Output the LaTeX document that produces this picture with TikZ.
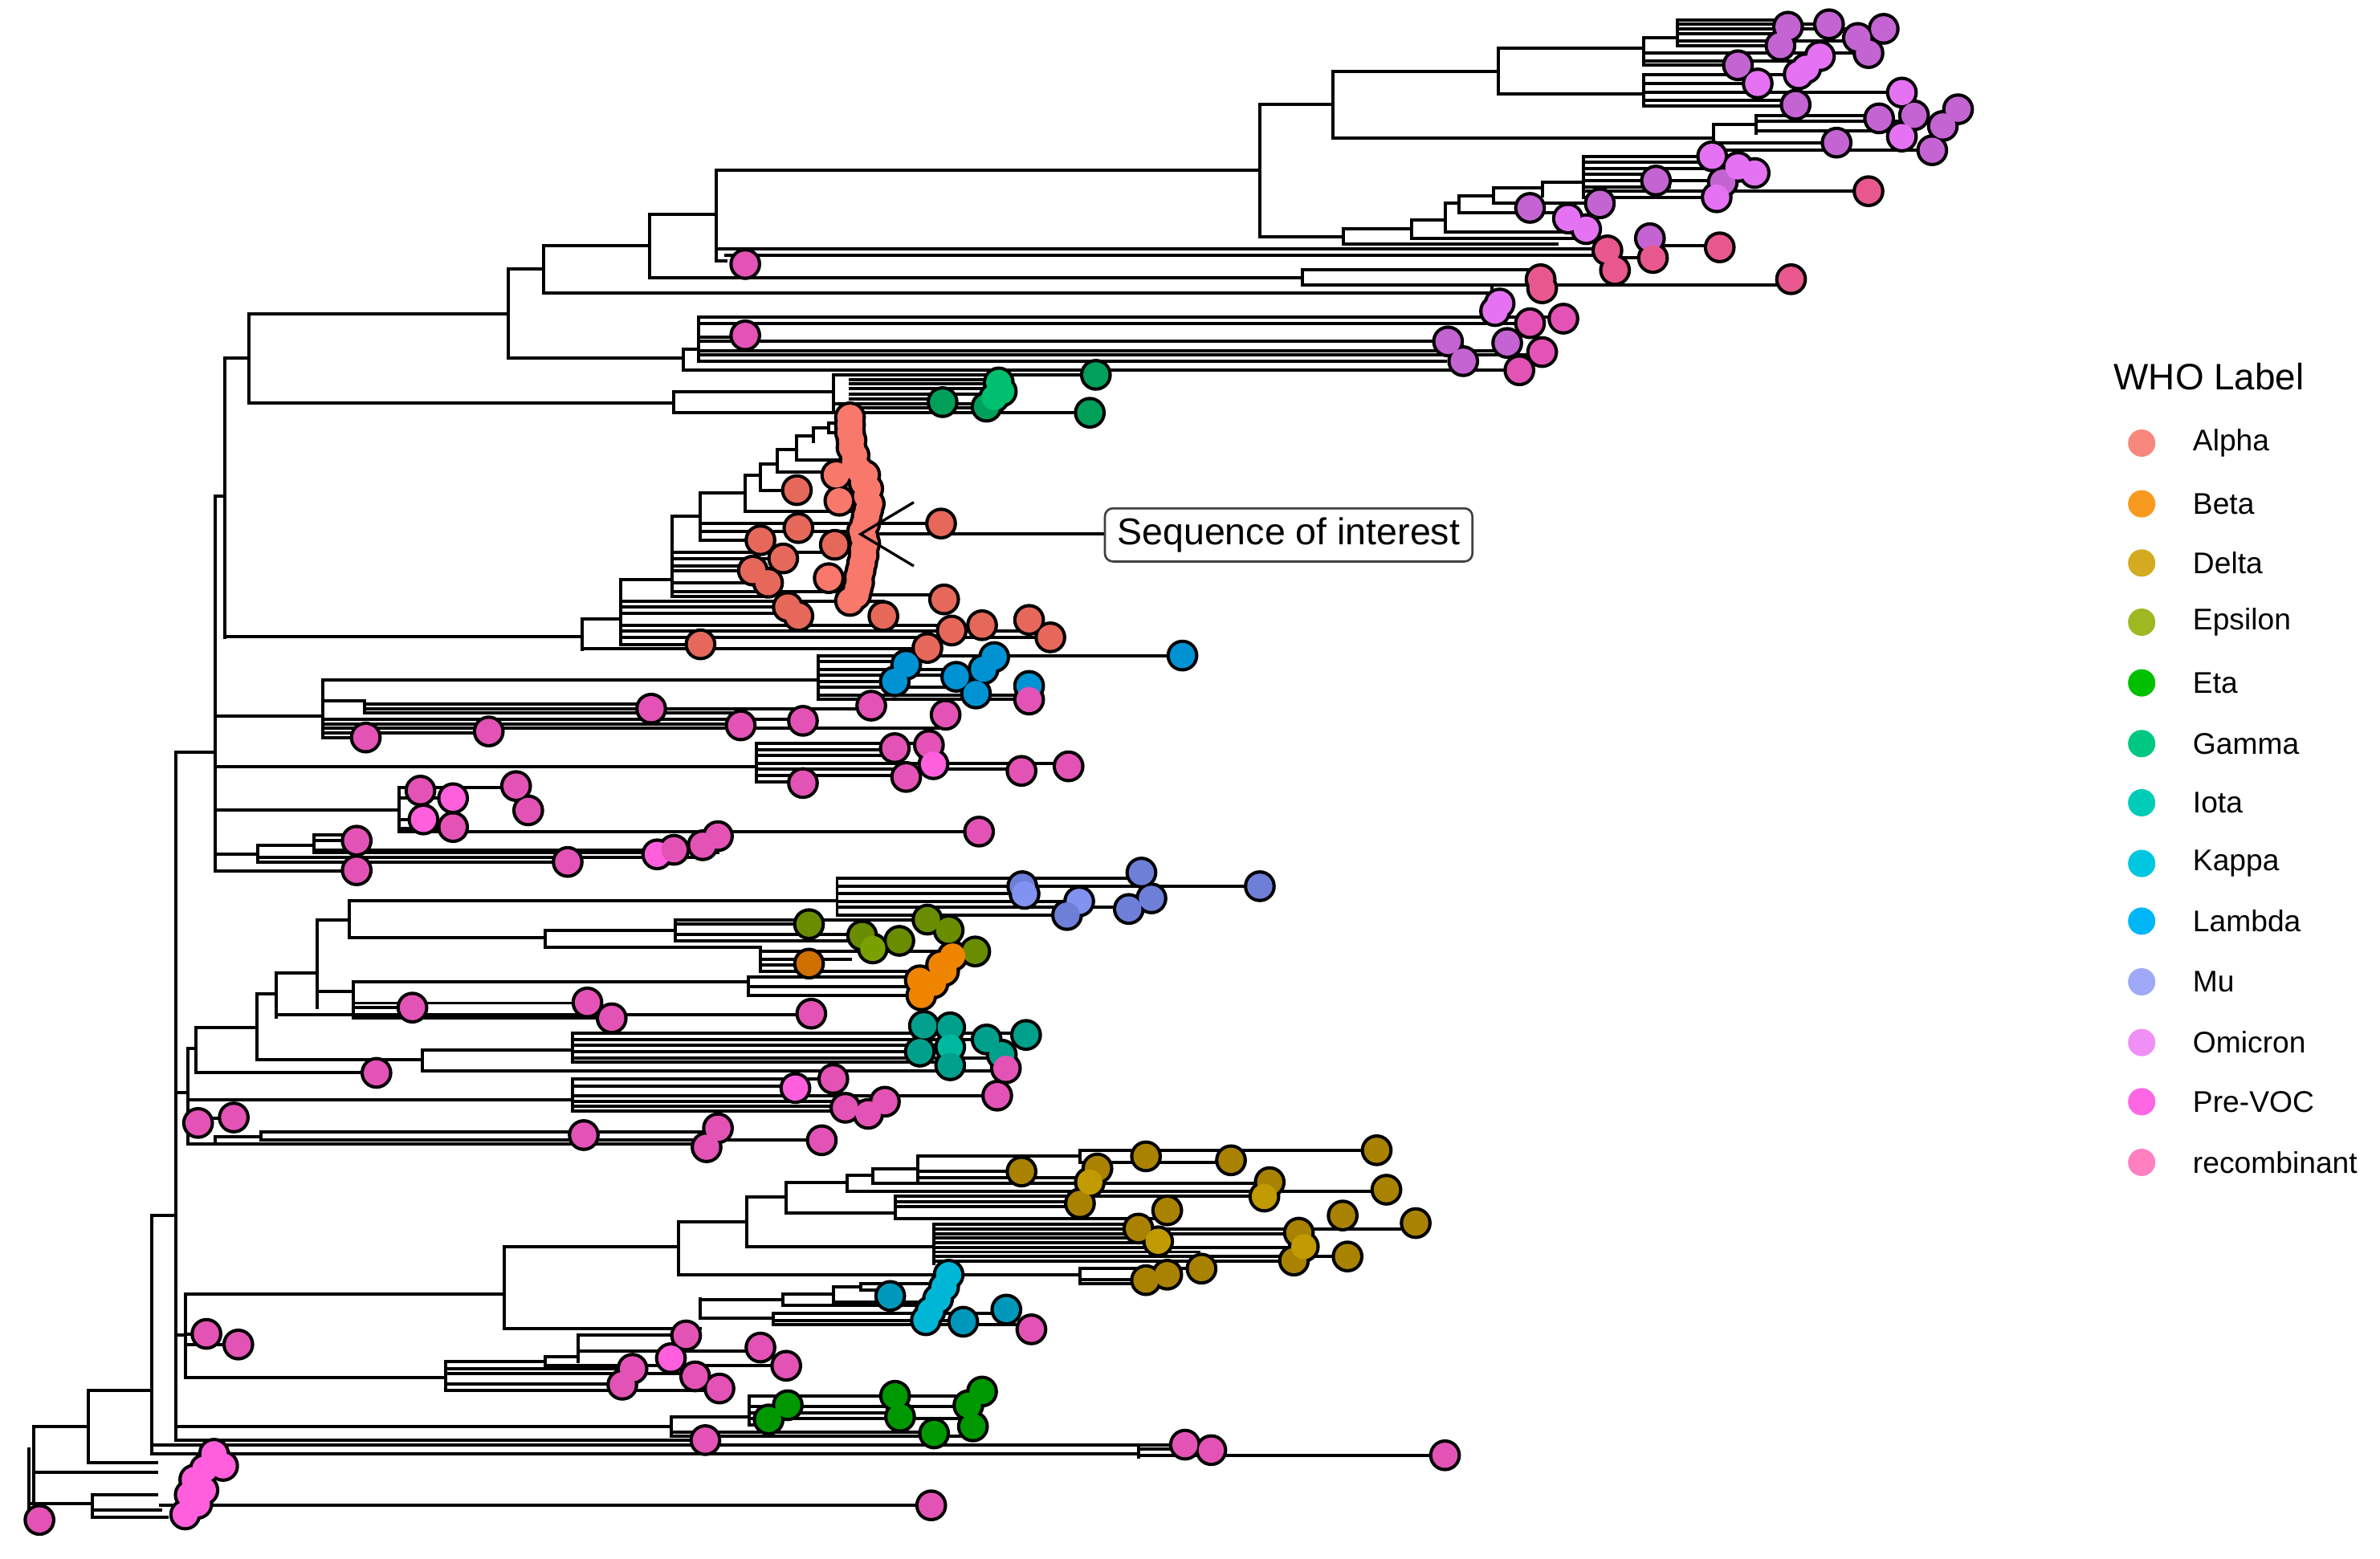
\documentclass[tikz,border=0pt]{standalone}
\usepackage{fontspec}
\setmainfont{Liberation Sans}
\definecolor{alp}{HTML}{E5685B}\definecolor{alpL}{HTML}{F8786B}
\definecolor{gam}{HTML}{00A05A}\definecolor{gamL}{HTML}{00BF6E}
\definecolor{lam}{HTML}{0092D2}
\definecolor{pv}{HTML}{E352B5}\definecolor{pvL}{HTML}{FF5FDD}
\definecolor{rec}{HTML}{E8588E}
\definecolor{omi}{HTML}{C463D2}\definecolor{omiL}{HTML}{E472F2}
\definecolor{mu}{HTML}{6E7FD8}\definecolor{muL}{HTML}{8292F0}
\definecolor{eps}{HTML}{6A8C00}\definecolor{epsL}{HTML}{78A000}
\definecolor{bet}{HTML}{EE8400}\definecolor{betD}{HTML}{D07000}
\definecolor{iot}{HTML}{00A08C}\definecolor{iotL}{HTML}{00B8A0}
\definecolor{kap}{HTML}{00B6D6}\definecolor{kapD}{HTML}{0098BA}
\definecolor{del}{HTML}{A88200}\definecolor{delL}{HTML}{C09A00}
\definecolor{eta}{HTML}{009800}
\definecolor{lgAlpha}{HTML}{F8877D}\definecolor{lgBeta}{HTML}{F99A20}
\definecolor{lgDelta}{HTML}{D4AA20}\definecolor{lgEpsilon}{HTML}{9DB820}
\definecolor{lgEta}{HTML}{00C000}\definecolor{lgGamma}{HTML}{00C880}
\definecolor{lgIota}{HTML}{00CDB8}\definecolor{lgKappa}{HTML}{00C6E0}
\definecolor{lgLambda}{HTML}{00B6F6}\definecolor{lgMu}{HTML}{A0A8F8}
\definecolor{lgOmicron}{HTML}{F090F6}\definecolor{lgPreVOC}{HTML}{FF66E4}
\definecolor{lgRec}{HTML}{FF80C0}
\def\tiplist{omi/1178/17.6, omi/1173/30, omi/1205/16, omi/1224/25, omi/1241/19, omi/1231/35, omi/1145/43, omi/1183/69, omi/1210/94,
omi/1238/78, omi/1280/83, omi/1290/72, omi/1261/76, omi/1273/99, omiL/1158/55, omiL/1199/37, omiL/1185/49, omiL/1190/45, omiL/1253/61, omiL/1253/90,
omi/1008/137, omi/1054/134, omi/1091/119, omi/1135/120, omi/1087/157, omi/954/225, omi/964/238, omi/993/226,
omiL/1033/144, omiL/1045/151, omiL/1128/103, omiL/1145/110, omiL/1156/114, omiL/1131/130, omiL/988/200, omiL/985/205,
rec/1231/126, rec/1133/163, rec/1180/184, rec/1059/165, rec/1064/178, rec/1089/170, rec/1015/184, rec/1016/190,
pv/1030/210, pv/1008/213, pv/1016/232, pv/1001/244, pv/491/174, pv/491/221,
gam/621/265, gam/722/247, gam/718/272, gam/650/268, gamL/658/252, gamL/660/258, gamL/655/262,
alpL/560/275, alpL/560/280, alpL/560/285, alpL/561/290, alpL/561/295, alpL/563/300, alpL/563/305, alpL/566/310,
alpL/551/313, alpL/570/313, alpL/569/318, alpL/572/322, alpL/571/327, alpL/553/330, alpL/573/332, alpL/572/336,
alpL/571/340, alpL/570/345, alpL/568/350, alpL/569/354, alpL/570/358, alpL/569/362, alpL/569/366, alpL/568/371,
alpL/567/376, alpL/546/381, alpL/566/380, alpL/566/384, alpL/565/388, alpL/564/392, alpL/560/396,
alp/525/323, alp/526/348, alp/501/356, alp/550/359, alp/516/368, alp/496/376, alp/506/384, alp/519/400, alp/526/406,
alp/582/406, alp/622/395, alp/620/345, alp/627/415.5, alp/647/412, alp/678/408.5, alp/692/420, alp/611/427, alp/461.5/424.6,
lam/597/438, lam/589.5/449, lam/630/446, lam/648/441, lam/655/433, lam/643/457, lam/779/432, lam/678/452,
pv/678/461, pv/429/467, pv/241/486, pv/322/482, pv/488/478, pv/529/475, pv/574/465, pv/623/471,
pv/589.5/493, pv/612/491, pvL/615/503.6, pv/597/512, pv/529/516, pv/673/508, pv/704/505,
pv/277/521, pvL/298.5/526, pvL/279/540, pv/298.5/545, pv/340/518, pv/348/534, pv/645/548,
pv/235/554, pv/235/573.5, pv/374/568, pvL/433/563, pv/444/560, pv/463/557, pv/473/551,
mu/673.5/584, muL/675/589, mu/752/575, mu/758.6/592, mu/743.7/599, muL/711/594, mu/703/603, mu/830/584,
eps/533/609, eps/568/616.5, epsL/575/625, eps/592.5/620, eps/611/606, eps/625/613, eps/642.5/627,
betD/533/635, bet/627.6/630, bet/620/636, bet/622/640, bet/615/648, bet/606/646, bet/607/656,
pv/534.5/668, pv/271.7/664, pv/387/660.6, pv/403/671,
iot/608.7/676, iot/626/677, iot/606/693, iotL/626/690, iot/626/702, iot/650/685, iot/676/682, iot/660/695,
pv/662.7/704, pv/657/722, pvL/524/717, pv/549/711, pv/557/730, pv/572/734, pv/583/726, pv/541.4/751.4,
pv/473/743.5, pv/465.5/756, pv/384.6/748, pv/248/707, pv/130.5/740, pv/154/736.4,
del/673/772, del/723/770, del/755/762, del/811/764.6, del/907/758, del/711.5/793, delL/718/779, del/769/797.6,
del/836.5/779, delL/833/788.5, del/913.4/784, del/884.6/801, del/932.7/806, del/750/809.6, delL/763/818,
del/855.7/812.3, del/852.5/830.7, del/887.8/828, del/791.6/836, del/769/840, del/755/843.6, delL/859/821.5,
kapD/586.5/854, kap/625/840, kap/622/848, kap/618/856, kap/613/864, kap/610/870, kapD/634.6/871, kapD/663/863,
pv/679.5/876, pv/136/879, pv/157/886, pv/452/880, pvL/442/895, pv/416.7/902, pv/410/912.5, pv/458/907, pv/474/915, pv/501/888, pv/518/900,
eta/519/926, eta/506.4/935.4, eta/589.7/919.8, eta/593/933.6, eta/647/917, eta/638/926, eta/641/940, eta/615.4/944.6,
pv/464.7/949, pv/780.7/952, pv/798/955.6, pv/952/959, pv/613.5/992, pv/26/1001.6,
pvL/141/958, pvL/147/966, pvL/135/968, pvL/128/975, pvL/125/985, pvL/134/982, pvL/130/991, pvL/122/998}
\begin{document}
\begin{tikzpicture}[x=0.01cm,y=-0.01cm,
  br/.style={line width=0.6pt, line cap=rect, black},
  tipring/.style={fill=black},
  lgdot/.style={circle, inner sep=0pt, minimum size=0.18cm},
  lgtext/.style={anchor=west, font=\fontsize{5.6}{6.5}\selectfont, inner sep=0pt},
  callout/.style={draw=black!75, rounded corners=1.5pt, line width=0.4pt, fill=white,
    minimum width=2.42cm, minimum height=0.35cm, inner sep=0pt,
    font=\fontsize{7}{8}\selectfont}]
\useasboundingbox (0,0) rectangle (1568,1027);
% horizontal branches
\foreach \y/\a/\b in {236/148/164, 327/141.7/148, 419.6/148/383.6,
207/164/335, 265.5/164/444, 177/335/358, 236/335/450, 162/358/428, 193/358/983,
141/428/472, 183/428/858, 112/472/830, 172/472/478, 168/478/1063,
69/830/878, 47/878/987, 91/878/1129, 32/987/1083, 62/987/1083,
25/1083/1105, 13/1105/1178, 16/1105/1205, 19/1105/1241, 22/1105/1173, 27/1105/1224, 30/1105/1173,
35/1083/1231, 40/1083/1199, 43/1083/1145, 49/1083/1185, 55/1083/1158, 61/1083/1253, 66/1083/1183, 70/1083/1183,
82/1129/1157, 76/1157/1238, 80/1157/1261, 86/1157/1253, 94/1129/1210, 99/1129/1273,
156/830/885, 151/885/930, 161/885/1026, 145/930/952, 157/930/1045, 134/952/961, 153/952/1043,
129/961/984, 140/961/1033, 124/984/1016, 134/984/1054, 120/1016/1043, 103/1043/1128, 107/1043/1145,
111/1043/1156, 115/1043/1090, 119/1043/1135, 123/1043/1100, 126/1043/1231, 130/1043/1131,
164/472/1058, 178/858/1016, 188/858/1180, 170/1063/1089, 162/1097/1133, 200/983/988,
230/450/460, 244/450/1001, 222/460/491, 238/460/952, 209/460/1030, 231/460/993, 225/460/954, 213/460/1008, 234/460/1016,
258/444/549, 272/444/718, 247/549/722, 250/560/650, 253/560/658, 256/560/655, 260/560/650, 263/560/621, 266/549/650, 269/560/660,
408/383.6/409, 427.6/383.6/612, 382/409/443, 424.6/409/461, 412/409/647, 416/409/678, 420/409/692,
340/443/461.5, 373/443/490, 393/443/507, 325/461.5/491, 356/461.5/501, 350/461.5/567, 313/491/501, 337/491/560,
306/501/512, 323/501/525, 296/512/525, 311/512/560, 287/525/536, 303/525/560, 282/536/546, 279/546/560, 285/546/560,
345/461.5/620, 352/567/728, 364/443/550, 368/443/516, 376/443/496, 384/443/506, 390/443/560, 396/409/582, 400/409/519, 404/409/526, 392/560/622,
495.5/116/142, 472/142/212.5, 448/212.5/539, 436/539/597, 441/539/648, 432/539/779, 445/539/630, 449/539/589, 453/539/643, 458/539/678, 461/539/678,
462/212.5/240, 464/240/429, 467/240/574, 470/240/488, 474/212.5/529, 477/212.5/488, 480/212.5/623, 483/212.5/322, 486/212.5/241,
505/142/498.5, 490/498.5/612, 494/498.5/590, 498/498.5/597, 503/498.5/704, 507/498.5/673, 511/498.5/597, 515/498.5/529,
534/142/263, 519/263/340, 526/263/298, 540/263/279, 546/263/298, 548/263/645,
563/142/170, 557/170/207, 550/207/235, 554/207/235, 560/207/444, 562/207/473, 568/170/374, 565/170/463, 574/142/235,
720/116/124, 691/124/129, 677/129/169.5, 707/129/248, 655/169.5/182, 641/182/209, 668.5/182/534, 606/209/230, 593.5/230/551.5,
584/551.5/830, 589/551.5/675, 598/551.5/744, 594/551.5/711, 603/551.5/703, 579/551.5/752,
618/230/359, 613/359/445, 606/445/611, 609/445/533, 616/445/568, 620/445/593, 624.4/359/501, 627/501/642, 632/501/560, 636/501/533, 640/501/620,
653.5/209/233, 647/233/493, 644/493/606, 650/493/607, 656/493/607, 661/233/387, 664/233/272, 671/233/403,
698.5/169.5/278, 692/278/377, 685/377/650, 681/377/676, 689/377/626, 693/377/606, 697/377/660, 700/377/626, 705.5/278/658,
725/124/377, 716/377/524, 711/377/550, 722/377/657, 729/377/557, 732/377/572, 726/377/583,
740/124/130.5, 737/124/154, 754/124/465.5, 749/141.7/172, 746/172/473, 751/172/541,
801/100/116, 880/116/122, 852.8/122/332, 821.5/332/447, 875.7/332/461.5, 805/447/492, 840/447/711.5, 836/711.5/791, 843/711.5/755, 846/711.5/769,
789/492/518, 821.5/492/615.5, 807/615.5/750, 810/615.5/933, 813/615.5/856, 816/615.5/760, 819/615.5/763, 822/615.5/859, 825/615.5/790, 828/615.5/888, 831/615.5/852,
779/518/558, 799.5/518/590, 795/590/711, 803/590/769, 774.7/558/575, 784.8/558/913, 770/575/604.5, 780/575/836, 762/604.5/711.5, 758/711.5/907, 766/711.5/811,
772/604.5/673, 776/604.5/718, 788/590/833, 792/590/711,
856.4/461.5/516, 868.4/461.5/509.6, 852.8/516/549, 860/516/625, 848/549/567, 858/549/625, 846/567/620, 850/567/586, 865.6/509.6/663, 870/509.6/634, 873/509.6/680,
886/122/157, 879/122/136, 908/122/293.6, 897/293.6/359, 894/359/381, 900/359/518, 890.4/381/501, 880/381/452, 905/293.6/458, 912/293.6/410, 916/293.6/474, 902/293.6/416,
940/116/442, 933.6/442/493.6, 946.4/442/641, 927/493.6/647, 939/493.6/506, 931/493.6/593, 920/493.6/647, 935/493.6/638, 944/442/615,
949/116/465, 952/100/780, 958/100/750, 955/750/798, 959/750/952,
916/58/100, 964/58/103, 940/22/58, 970/22/103, 991/19/61, 985/61/103, 995/61/106, 1000/61/110, 1001/19/26, 992/106/613}
  \draw[br] (\a,\y) -- (\b,\y);
% vertical branches
\foreach \x/\a/\b in {148/236/420, 164/207/265.5, 335/177/236, 358/162/193, 428/141/183, 472/112/172, 141.7/327/574, 116/495.5/949,
830/69/156, 878/47/91, 987/32/62, 1083/25/43, 1105/13/30, 1083/49/70, 1129/82/99, 1157/76/88,
885/151/161, 930/145/157, 952/134/153, 961/129/140, 984/124/134, 1016/120/129, 1043/103/130, 858/178/188, 983/190/205,
450/230/244, 460/209/238, 444/258/272, 549/247/272,
383.6/408/428, 409/382/424.6, 443/340/393, 461.5/325/356, 491/313/337, 501/306/323, 512/296/311, 525/287/303, 536/282/291, 546/279/285,
212.5/448/486, 539/432/461, 240/462/470, 498.5/490/515, 263/519/548, 170/557/568, 207/550/562,
124/691/754, 129/677/707, 169.5/655/698.5, 182/641/670, 209/606/664, 230/593.5/618, 551.5/579/603, 359/613/624.4, 445/606/620, 501/624.4/640,
233/647/671, 493/644/656, 278/692/705.5, 377/681/700, 377/711/732, 141.7/749/754, 172/746/751,
100/801/958, 122/853/908, 332/821.5/875.7, 447/805/840, 711.5/836/846, 492/789/821.5, 615.5/806.8/832.5, 518/779/799.5, 590/788/803,
558/774.7/784.8, 575/770/780, 604.5/762/778.4, 711.5/758/766,
461.5/856/868.4, 516/852.8/860, 549/848/858, 567/846/850, 509.6/865.6/873,
293.6/897/916, 359/894/900, 381/880/897, 442/933.6/946.4, 493.6/920/939, 750/952/960,
58/916/964, 22/940/991, 19/955/1001, 61/985/1000}
  \draw[br] (\x,\a) -- (\x,\b);
% tips: black rings first, then coloured discs, so overlapping tips merge
\foreach \c/\x/\y in \tiplist
  \fill[tipring] (\x,\y) circle[radius=0.105cm];
\foreach \c/\x/\y in \tiplist
  \fill[\c] (\x,\y) circle[radius=0.083cm];
% sequence of interest marker and callout
\draw[line width=0.5pt] (602,331) -- (567,352) -- (602,373);
\node[callout] (soi) at (849,352.5) {Sequence of interest};
% legend
\node[anchor=west, inner sep=0pt, font=\fontsize{6.9}{8}\selectfont] (lgtitle) at (1392,248) {WHO Label};
\foreach \c/\t/\y [count=\i] in {lgAlpha/Alpha/292, lgBeta/Beta/332, lgDelta/Delta/371, lgEpsilon/Epsilon/410,
  lgEta/Eta/450, lgGamma/Gamma/490, lgIota/Iota/529, lgKappa/Kappa/569, lgLambda/Lambda/607,
  lgMu/Mu/647, lgOmicron/Omicron/687, lgPreVOC/Pre-VOC/726, lgRec/recombinant/766}{
  \node[lgdot, fill=\c] (ld\i) at (1411,\y) {};
  \node[lgtext] (lt\i) at (1444,\y) {\t};
}
\end{tikzpicture}
\end{document}
